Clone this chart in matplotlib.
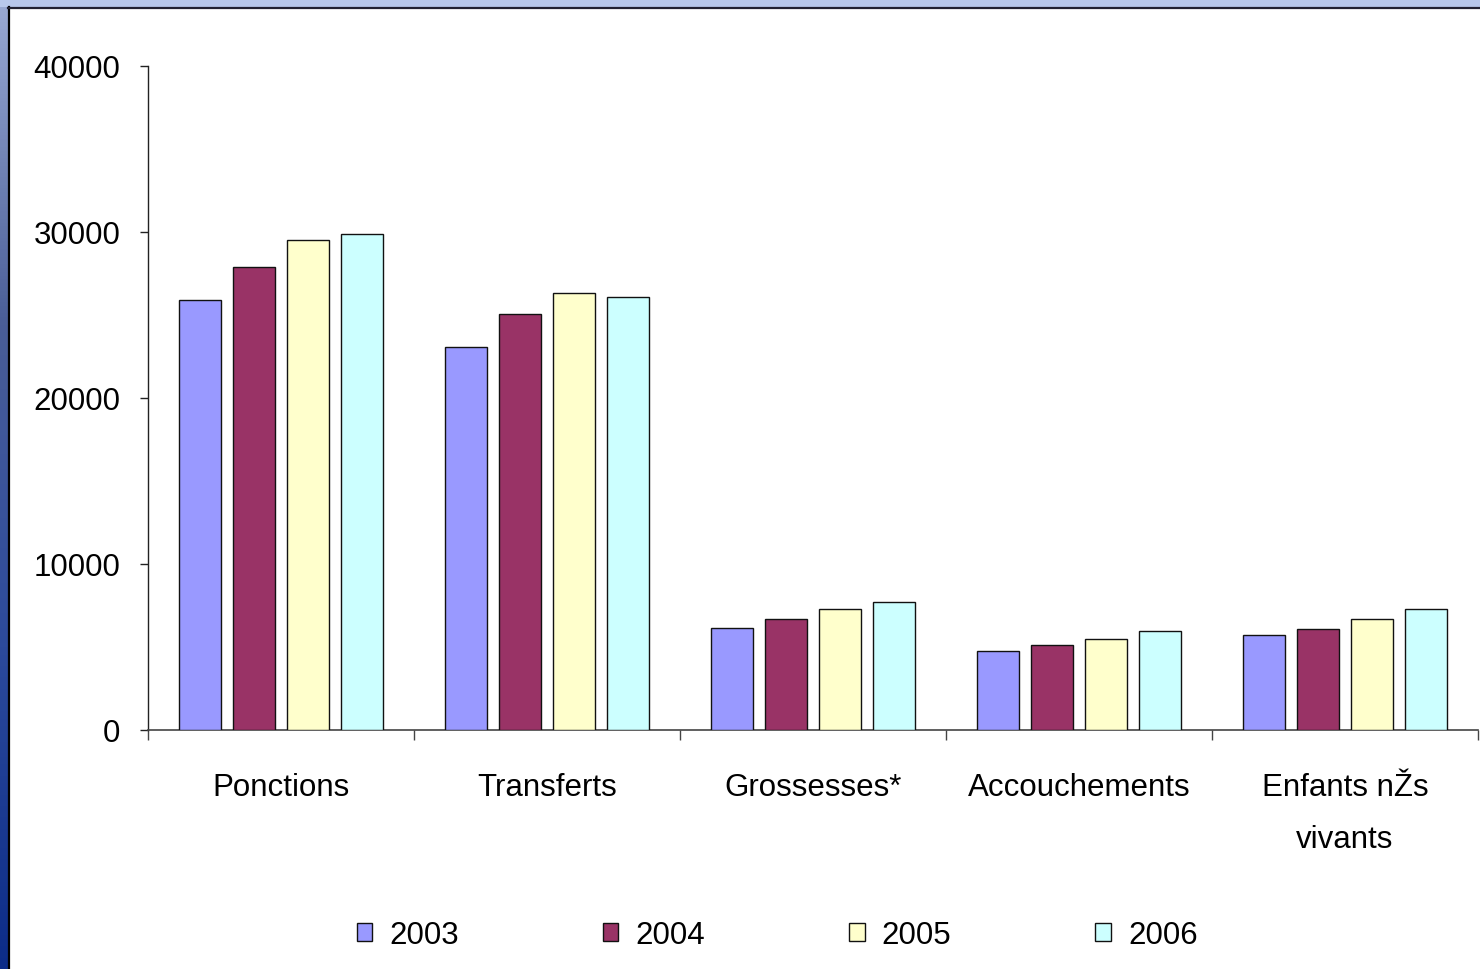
import matplotlib
matplotlib.use("Agg")
import matplotlib.pyplot as plt
import numpy as np
from matplotlib.patches import Rectangle
from matplotlib.colors import LinearSegmentedColormap

categories = ["Ponctions", "Transferts", "Grossesses*", "Accouchements", "Enfants nŽs\nvivants"]
years = ["2003", "2004", "2005", "2006"]
v2003 = [25900, 23100, 6150, 4750, 5700]
v2004 = [27900, 25050, 6700, 5100, 6100]
v2005 = [29500, 26300, 7300, 5500, 6700]
v2006 = [29850, 26100, 7700, 5950, 7300]
series = [v2003, v2004, v2005, v2006]
colors = ["#9999ff", "#993366", "#ffffcc", "#ccffff"]
yticks = [0, 10000, 20000, 30000, 40000]

plt.rcParams["font.family"] = ["Liberation Sans", "DejaVu Sans"]
fs = 22.5

W, H = 1480, 970
fig = plt.figure(figsize=(W / 100, H / 100), dpi=100)
fig.patch.set_facecolor("white")

bg = fig.add_axes([0, 0, 1, 1], zorder=-10)
bg.set_xlim(0, W)
bg.set_ylim(H, 0)
bg.axis("off")
grad = np.linspace(0, 1, 256).reshape(-1, 1)
cmap = LinearSegmentedColormap.from_list("b", ["#9aaad4", "#4a5e98", "#2c4a9c", "#0c2c88"])
bg.imshow(grad, cmap=cmap, aspect="auto", extent=(0, 8, H, 0), zorder=1)
bg.add_patch(Rectangle((0, 0), W, 8, color="#b8c8ec", zorder=2, lw=0))
bg.plot([9, 9], [8, H], color="black", lw=1.6, zorder=3)
bg.plot([8, W], [8.5, 8.5], color="#222233", lw=1.6, zorder=3)

ax = fig.add_axes([148 / W, 1 - 731 / H, 1330 / W, (731 - 67) / H])
ax.set_facecolor("none")
x = np.arange(len(categories))
width = 0.158
step = 0.203
for j, (vals, c) in enumerate(zip(series, colors)):
    ax.bar(x + (j - 1.5) * step, vals, width, color=c, edgecolor="#111111",
           linewidth=1.0, label=years[j], zorder=3)

ax.set_xlim(-0.5, len(categories) - 0.5)
ax.set_ylim(0, 40000)
ax.set_yticks(yticks)
ax.set_yticklabels([str(t) for t in yticks], fontsize=fs)
ax.tick_params(axis="y", direction="out", length=6, width=1, pad=14, colors="#222222", labelcolor="black")
ax.set_xticks(np.arange(-0.5, len(categories), 1.0))
ax.set_xticklabels([])
ax.tick_params(axis="x", which="major", direction="out", length=7, width=1, colors="#444444")
ax.set_xticks(x, minor=True)
ax.set_xticklabels(categories, minor=True, fontsize=fs, linespacing=1.95)
ax.tick_params(axis="x", which="minor", length=0, pad=30, labelcolor="black")
for s in ["top", "right"]:
    ax.spines[s].set_visible(False)
ax.spines["left"].set_color("#222222")
ax.spines["bottom"].set_color("#444444")
ax.spines["left"].set_linewidth(1.0)
ax.spines["bottom"].set_linewidth(1.2)

fig.legend(loc="center", bbox_to_anchor=(777 / W, 1 - 936 / H), ncol=4, frameon=False,
           fontsize=fs, handlelength=0.5, handleheight=0.5, handletextpad=0.55,
           columnspacing=4.6)

fig.savefig("out.png", dpi=100)
